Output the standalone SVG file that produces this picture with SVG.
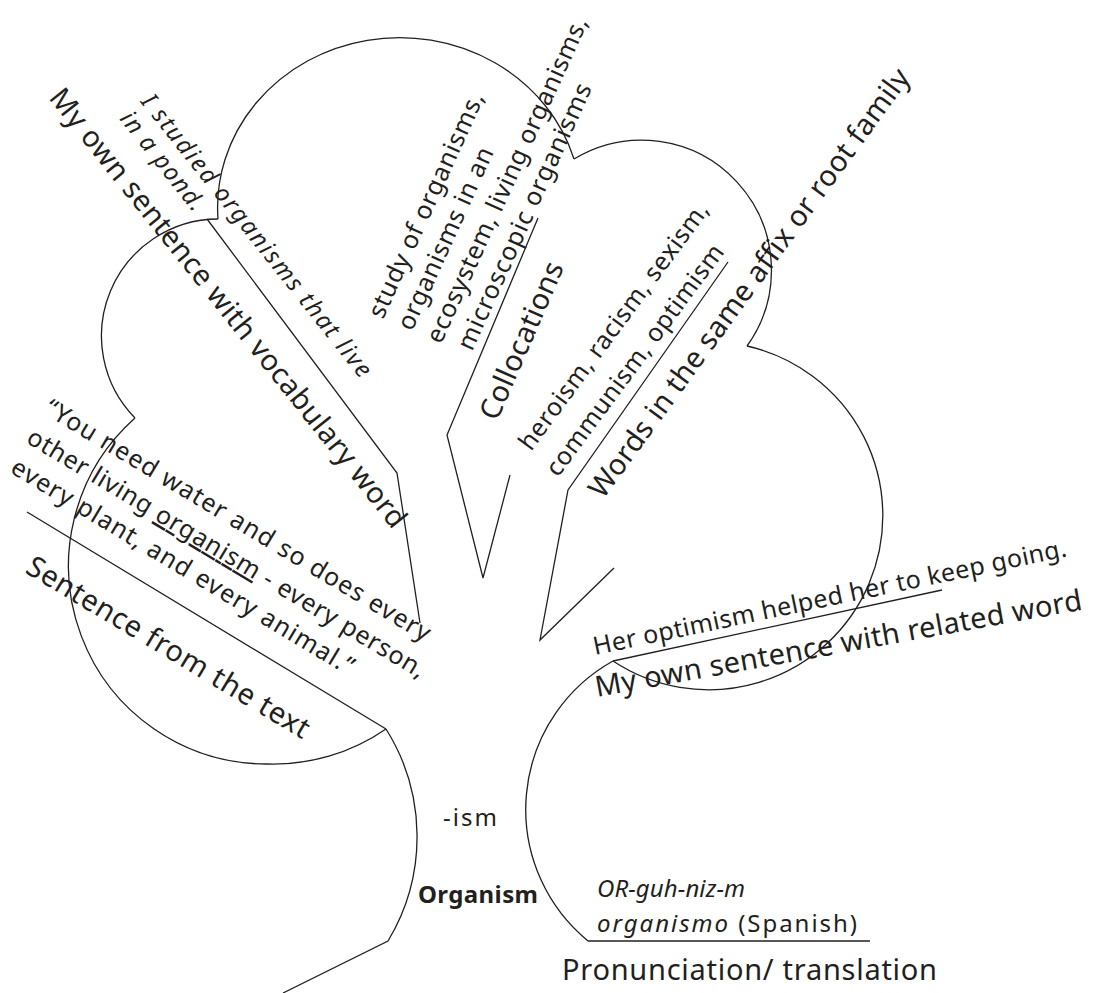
<svg xmlns="http://www.w3.org/2000/svg" width="1099" height="993" viewBox="0 0 1099 993">
<style>
.o{fill:none;stroke:#231f20;stroke-width:1.3;stroke-linejoin:miter}
.t{font-family:"Noto Sans","Open Sans",sans-serif;fill:#231f20}
.lab{font-size:29px}
.txt{font-size:25px}
.sm{font-size:24px}
.it{font-style:italic}
.b{font-weight:bold}
</style>
<rect width="1099" height="993" fill="#ffffff"/>
<g id="connectors">
<path class="o" d="M218,219 A182,170 0 0,1 574,159"/>
<path class="o" d="M574,159 A130,130 0 0,1 747,346"/>
<path class="o" d="M747,346 A174,174 0 1,1 613,661"/>
<path class="o" d="M613,661 A170,170 0 0,0 588,941"/>
<path class="o" d="M386,729 A202,202 0 0,1 388,941 L283,993"/>
<path class="o" d="M135,418 A198,198 0 0,0 266,764 A198,198 0 0,0 386,729"/>
<path class="o" d="M218,219 A117,117 0 0,0 135,418"/>
<path class="o" d="M613,661 L942,590"/>
<path class="o" d="M588,941 L870,941"/>
<path class="o" d="M27,512 L386,729"/>
<path class="o" d="M207,219 L397,473 L420,623"/>
<path class="o" d="M538,218 L447,435 L483,578 L510,475"/>
<path class="o" d="M728,262 L568,490 L540,640 L614,568"/>
</g>
<g id="node-vocab-sentence">
<text class="t lab" transform="translate(48,98) rotate(51.4)" textLength="553">My own sentence with vocabulary word</text>
<text class="t sm it" transform="translate(140,102) rotate(51.5)" textLength="354">I studied organisms that live</text>
<text class="t sm it" transform="translate(119,119) rotate(51.5)" textLength="120">in a pond.</text>
</g>
<g id="node-collocations">
<text class="t txt" transform="translate(383,320) rotate(-65.5)" textLength="245">study of organisms,</text>
<text class="t txt" transform="translate(412,332) rotate(-65.5)" textLength="198">organisms in an</text>
<text class="t txt" transform="translate(441,345) rotate(-65.5)" textLength="355">ecosystem, living organisms,</text>
<text class="t txt" transform="translate(472,352) rotate(-65.5)" textLength="290">microscopic organisms</text>
<text class="t lab" transform="translate(497,422) rotate(-66.5)" textLength="169">Collocations</text>
</g>
<g id="node-word-family">
<text class="t txt" transform="translate(531,452) rotate(-53.5)" textLength="301">heroism, racism, sexism,</text>
<text class="t txt" transform="translate(558,478) rotate(-53.5)" textLength="281">communism, optimism</text>
<text class="t lab" transform="translate(603,500) rotate(-53.9)" textLength="523">Words in the same affix or root family</text>
</g>
<g id="node-text-sentence">
<text class="t txt" transform="translate(43,413) rotate(31)" textLength="445">“You need water and so does every</text>
<text class="t txt" transform="translate(25,442) rotate(31)" textLength="460">other living <tspan text-decoration="underline">organism</tspan> - every person,</text>
<text class="t txt" transform="translate(9,472) rotate(31)" textLength="395">every plant, and every animal.”</text>
<text class="t lab" transform="translate(24,572) rotate(31)" textLength="325">Sentence from the text</text>
</g>
<g id="node-related-sentence">
<text class="t txt" transform="translate(595,655) rotate(-11.8)" textLength="483">Her optimism helped her to keep going.</text>
<text class="t lab" transform="translate(597,697) rotate(-10.2)" textLength="494">My own sentence with related word</text>
</g>
<g id="node-word">
<text class="t sm" x="443" y="826" textLength="54">-ism</text>
<text class="t sm b" x="418" y="903" textLength="120">Organism</text>
</g>
<g id="node-pronunciation">
<text class="t sm it" x="597" y="897" textLength="148">OR-guh-niz-m</text>
<text class="t sm" x="597" y="932" textLength="260"><tspan class="it">organismo</tspan> (Spanish)</text>
<text class="t lab" x="562" y="980" textLength="375">Pronunciation/ translation</text>
</g>
</svg>
